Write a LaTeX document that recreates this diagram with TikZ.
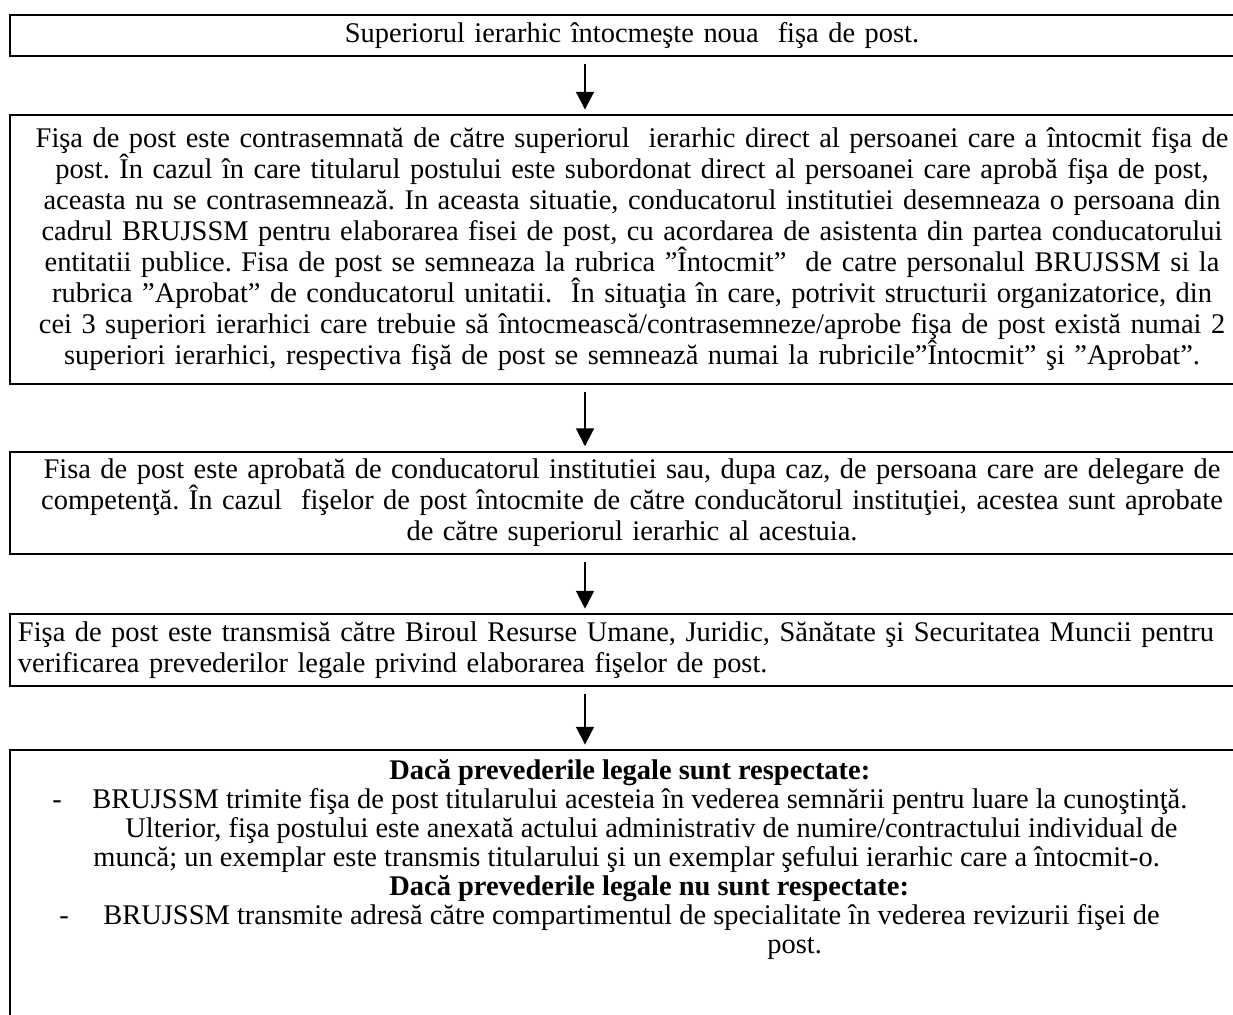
\documentclass[tikz,border=0pt]{standalone}
\usepackage{fontspec}
\setmainfont{Liberation Serif}
\usetikzlibrary{arrows.meta}
\frenchspacing

\begin{document}
\begin{tikzpicture}[x=0.45pt,y=-0.45pt]
\tikzset{caseta/.style={draw, line width=0.9pt, rectangle, minimum width=559.8pt, inner xsep=3.6pt, text width=552.6pt, align=center, font=\fontsize{12.8pt}{13.95pt}\selectfont}}
\tikzset{rand/.style={anchor=base west, inner sep=0pt, font=\fontsize{12.8pt}{13.95pt}\selectfont}}
\tikzset{flow/.style={-{Triangle[width=8pt,length=8pt]}, line width=0.9pt, shorten <=3pt, shorten >=2pt}}
\useasboundingbox (0,0) rectangle (1233,1014);
\clip (0,0) rectangle (1233,1014);
\fill[white] (0,0) rectangle (1233,1014);
\node[caseta, minimum height=18.45pt] (b1) at (632,35.5) {Superiorul ierarhic întocmeşte noua~ fişa de post.};
\node[caseta, minimum height=121.05pt] (b2) at (632,249.5) {Fişa de post este contrasemnată de către superiorul~ ierarhic direct al persoanei care a întocmit fişa de\\
post. În cazul în care titularul postului este subordonat direct al persoanei care aprobă fişa de post,\\
aceasta nu se contrasemnează. In aceasta situatie, conducatorul institutiei desemneaza o persoana din\\
cadrul BRUJSSM pentru elaborarea fisei de post, cu acordarea de asistenta din partea conducatorului\\
entitatii publice. Fisa de post se semneaza la rubrica ”Întocmit”~ de catre personalul BRUJSSM si la\\
rubrica ”Aprobat” de conducatorul unitatii.~ În situaţia în care, potrivit structurii organizatorice, din\\
cei 3 superiori ierarhici care trebuie să întocmească/contrasemneze/aprobe fişa de post există numai 2\\
superiori ierarhici, respectiva fişă de post se semnează numai la rubricile”Întocmit” şi ”Aprobat”.};
\node[caseta, minimum height=40.5pt] (b3) at (632,503) {Fisa de post este aprobată de conducatorul institutiei sau, dupa caz, de persoana care are delegare de\\
competenţă. În cazul~ fişelor de post întocmite de către conducătorul instituţiei, acestea sunt aprobate\\
de către superiorul ierarhic al acestuia.};
\node[caseta, align=left, minimum height=29.7pt] (b4) at (632,650) {Fişa de post este transmisă către Biroul Resurse Umane, Juridic, Sănătate şi Securitatea Muncii pentru\\
verificarea prevederilor legale privind elaborarea fişelor de post.};
\node[caseta, minimum height=126pt] (b5) at (632,890) {};
\node[rand, font=\fontsize{12.8pt}{13.95pt}\selectfont\bfseries] (d1) at (389,779) {Dacă prevederile legale sunt respectate:};
\node[rand] (m1) at (52,808) {-};
\node[rand] (r1) at (92,808) {BRUJSSM trimite fişa de post titularului acesteia în vederea semnării pentru luare la cunoştinţă.};
\node[rand] (r2) at (125,837) {Ulterior, fişa postului este anexată actului administrativ de numire/contractului individual de};
\node[rand] (r3) at (93,866) {muncă; un exemplar este transmis titularului şi un exemplar şefului ierarhic care a întocmit-o.};
\node[rand, font=\fontsize{12.8pt}{13.95pt}\selectfont\bfseries] (d2) at (389,895) {Dacă prevederile legale nu sunt respectate:};
\node[rand] (m2) at (59,924) {-};
\node[rand] (r4) at (103,924) {BRUJSSM transmite adresă către compartimentul de specialitate în vederea revizurii fişei de};
\node[rand] (r5) at (767,953) {post.};
\coordinate (ax) at (585,0);
\draw[flow] (b1.south -| ax) -- (b2.north -| ax);
\draw[flow] (b2.south -| ax) -- (b3.north -| ax);
\draw[flow] (b3.south -| ax) -- (b4.north -| ax);
\draw[flow] (b4.south -| ax) -- (b5.north -| ax);
\end{tikzpicture}
\end{document}
